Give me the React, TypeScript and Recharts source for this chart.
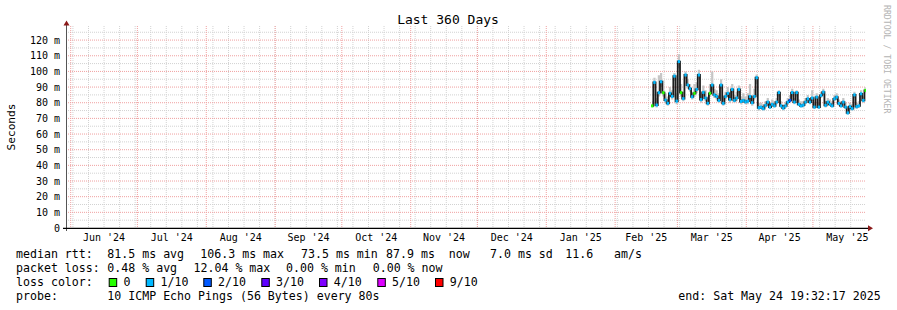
import React from 'react';
import { ComposedChart, Area, Line, XAxis, YAxis, CartesianGrid } from 'recharts';

const FONT = "'DejaVu Sans Mono', monospace";

// Sample times (days since graph start, consolidated samples shown at one per day)
const startDay = 263.8;

const median = [
  78, 93, 78.5, 86.4, 93.4, 86.4, 81.7, 79.6, 86, 84,
  97, 81, 106.3, 86.4, 82.6, 97.7, 91.3, 89, 83.8, 86,
  88.5, 97.7, 82, 86.6, 83, 79.6, 86, 91.3, 85, 84,
  81.5, 91.3, 79.6, 84, 86, 82, 88.5, 81.5, 83, 88.5,
  80.8, 81.5, 80.5, 81, 84, 80, 84, 96, 76.8, 77.2,
  76.2, 78.3, 80.4, 77.2, 79, 78, 80.4, 86.5, 78, 76.6,
  78, 80.4, 81.5, 86.5, 80.4, 86.5, 79, 78, 78.5, 80.4,
  82.5, 80.4, 83, 77.2, 83.6, 77.2, 84.7, 86.8, 78.3, 80.4,
  79, 78, 82.5, 83.6, 79.5, 78, 80.4, 77.2, 73.5, 77.5,
  76.2, 85, 77.5, 78, 85.7, 81.5, 87.9,
];

const smokeHigh = [
  81, 96, 83, 97.6, 99, 94, 86, 84, 90, 88,
  99, 86, 111, 92, 87, 100, 95, 92, 87, 92,
  93, 101, 86, 91, 88, 84, 92, 100, 89, 88,
  86, 95, 84, 87, 90, 87, 92, 85, 87, 91,
  84, 86, 84, 86, 92, 84, 89, 98, 80, 80,
  79, 81, 83, 80, 82, 81, 83, 88, 81, 79,
  80, 83, 85, 89, 83, 88, 82, 81, 81, 83,
  85, 83, 88, 80, 86, 80, 87, 89, 81, 83,
  82, 81, 85, 86, 82, 81, 83, 80, 77, 80,
  79, 87, 80, 81, 88, 84, 90,
];

const smokeLow = [
  77, 91, 77, 84, 90, 84, 80, 78, 84, 82,
  94, 79, 102, 84, 81, 95, 89, 87, 82, 84,
  86, 95, 80, 84, 81, 78, 84, 88, 83, 82,
  80, 89, 78, 82, 84, 80, 86, 80, 81, 86,
  79, 80, 79, 79, 82, 78, 82, 92, 75, 76,
  75, 77, 79, 76, 78, 77, 79, 84, 77, 75,
  77, 79, 80, 84, 79, 84, 78, 77, 77, 79,
  81, 79, 81, 76, 82, 76, 83, 85, 77, 79,
  78, 77, 81, 82, 78, 77, 79, 76, 72.5, 76,
  75, 83, 76, 77, 84, 80, 86,
];

const lossCount = [
  0, 1, 1, 1, 1, 0, 1, 1, 1, 1,
  1, 1, 1, 0, 1, 1, 1, 1, 1, 0,
  1, 1, 1, 1, 1, 1, 0, 1, 1, 1,
  1, 1, 1, 1, 1, 1, 1, 1, 1, 1,
  1, 1, 1, 1, 1, 1, 1, 1, 1, 1,
  1, 1, 1, 1, 1, 1, 1, 1, 1, 1,
  1, 1, 2, 1, 1, 1, 1, 1, 1, 1,
  1, 1, 1, 1, 1, 1, 1, 1, 1, 1,
  1, 1, 1, 1, 1, 1, 1, 1, 1, 1,
  1, 1, 1, 1, 1, 1, 0,
];

const lossLegend = [
  { n: 0, label: '0', color: '#26ff00' },
  { n: 1, label: '1/10', color: '#00b8ff' },
  { n: 2, label: '2/10', color: '#0059ff' },
  { n: 3, label: '3/10', color: '#5e00ff' },
  { n: 4, label: '4/10', color: '#7e00ff' },
  { n: 5, label: '5/10', color: '#dd00ff' },
  { n: 9, label: '9/10', color: '#ff0000' },
];

const monthStarts = [2.12, 32.12, 63.12, 94.12, 124.12, 155.12, 185.12, 216.12, 247.12, 275.12, 306.12, 336.12, 367.12];
const monthLabels = ["Jun '24", "Jul '24", "Aug '24", "Sep '24", "Oct '24", "Nov '24", "Dec '24", "Jan '25", "Feb '25", "Mar '25", "Apr '25", "May '25"];
const firstWeek = 3.12;

const yTicks = [0, 10, 20, 30, 40, 50, 60, 70, 80, 90, 100, 110, 120];
const yMinor = [5, 15, 25, 35, 45, 55, 65, 75, 85, 95, 105, 115, 125];

const legendRows = [
  { y: 258.3, parts: [[16, 'median rtt:'], [107.3, '81.5 ms avg'], [200.3, '106.3 ms max'], [301, '73.5 ms min'], [386, '87.9 ms  now'], [490, '7.0 ms sd'], [565.3, '11.6'], [614, 'am/s']] },
  { y: 272.3, parts: [[16, 'packet loss:'], [107.3, '0.48 % avg'], [193.5, '12.04 % max'], [286, '0.00 % min'], [372.7, '0.00 % now']] },
  { y: 286.3, parts: [[16, 'loss color:']] },
  { y: 300.3, parts: [[16, 'probe:'], [107.3, '10 ICMP Echo Pings (56 Bytes) every 80s']] },
];
const lossBoxX = [108.7, 145.7, 203.3, 261.3, 319, 377.3, 435];

const rows = median.map((m, i) => ({
  day: startDay + i,
  median: m,
  smoke: [smokeLow[i], smokeHigh[i]],
  loss: lossCount[i],
}));

const labelDays = monthLabels.map((_, i) => (monthStarts[i] + monthStarts[i + 1]) / 2);
const weekDays: number[] = [];
for (let d = firstWeek; d < 360; d += 7) weekDays.push(d);
const monthLines = monthStarts.filter((d) => d < 360);

const colorFor = (n: number) => {
  const e = lossLegend.find((l) => l.n === n);
  return e ? e.color : '#00b8ff';
};

const LossDot = (props: any) => {
  const { cx, cy, payload, index } = props;
  if (cx == null || cy == null) return <g key={`d${index}`} />;
  return <rect key={`d${index}`} x={cx - 1.2} y={cy - 1.5} width={2.4} height={3} fill={colorFor(payload.loss)} />;
};

export default function App() {
  return (
    <div style={{ position: 'absolute', left: 0, top: 0, width: 897, height: 310, background: '#ffffff' }}>
      <ComposedChart width={897} height={310} data={rows} margin={{ top: 26, right: 31, bottom: 62, left: 0 }}>
        <CartesianGrid stroke="#d2d2d2" strokeDasharray="1 1" horizontalValues={yMinor} verticalValues={weekDays} />
        <CartesianGrid stroke="#f0a0a0" strokeDasharray="1 1" horizontalValues={yTicks.filter((v) => v > 0)} verticalValues={monthLines} />
        <XAxis
          type="number"
          dataKey="day"
          domain={[0, 360]}
          ticks={labelDays}
          interval={0}
          tickFormatter={(v: number) => monthLabels[labelDays.indexOf(v)] ?? ''}
          tickLine={false}
          axisLine={false}
          tickSize={3}
          tickMargin={3}
          height={20}
          allowDataOverflow
          tick={{ fontFamily: FONT, fontSize: 10, fill: '#000' }}
        />
        <YAxis
          type="number"
          domain={[0, 129]}
          ticks={yTicks}
          interval={0}
          tickFormatter={(v: number) => (v === 0 ? '0' : `${v} m`)}
          tickLine={false}
          axisLine={false}
          tickSize={3}
          tickMargin={3}
          width={66}
          allowDataOverflow
          tick={{ fontFamily: FONT, fontSize: 10, fill: '#000' }}
        />
        <Area dataKey="smoke" type="step" fill="#c6c6c6" fillOpacity={1} stroke="none" isAnimationActive={false} activeDot={false} />
        <Line dataKey="median" type="step" stroke="#1c1c1c" strokeWidth={1.8} dot={false} activeDot={false} isAnimationActive={false} />
        <Line dataKey="median" type="step" stroke="none" dot={LossDot} activeDot={false} isAnimationActive={false} />
      </ComposedChart>
      <svg width={897} height={310} style={{ position: 'absolute', left: 0, top: 0, pointerEvents: 'none' }}>
        <text x={448} y={24} textAnchor="middle" fontFamily={FONT} fontSize={13} fill="#000">Last 360 Days</text>
        <text transform="translate(14.5,127) rotate(-90)" textAnchor="middle" fontFamily={FONT} fontSize={11.2} fill="#000">Seconds</text>
        <text transform="translate(884,5) rotate(90)" fontFamily={FONT} fontSize={8.2} fill="#b4b4b4">RRDTOOL / TOBI OETIKER</text>
        <line x1={66.5} y1={231} x2={66.5} y2={25} stroke="#555" strokeWidth={1} />
        <line x1={63} y1={228.3} x2={868} y2={228.3} stroke="#000" strokeWidth={1.2} />
        <polygon points="66.5,20.5 63.5,25.5 69.5,25.5" fill="#8b1a1a" />
        <polygon points="873,228.3 868,225.3 868,231.3" fill="#8b1a1a" />
        {legendRows.map((r, ri) =>
          r.parts.map(([x, t], pi) => (
            <text key={`${ri}-${pi}`} x={x as number} y={r.y} fontFamily={FONT} fontSize={11.6} fill="#000" style={{ whiteSpace: 'pre' }}>{t as string}</text>
          ))
        )}
        {lossLegend.map((l, i) => (
          <g key={l.label}>
            <rect x={lossBoxX[i] + 0.5} y={278.5} width={7.5} height={8} fill={l.color} stroke="#000" strokeWidth={1} />
            <text x={lossBoxX[i] + 14.8} y={286.3} fontFamily={FONT} fontSize={11.6} fill="#000">{l.label}</text>
          </g>
        ))}
        <text x={880.7} y={300.3} textAnchor="end" fontFamily={FONT} fontSize={11.6} fill="#000" style={{ whiteSpace: 'pre' }}>end: Sat May 24 19:32:17 2025</text>
      </svg>
    </div>
  );
}
